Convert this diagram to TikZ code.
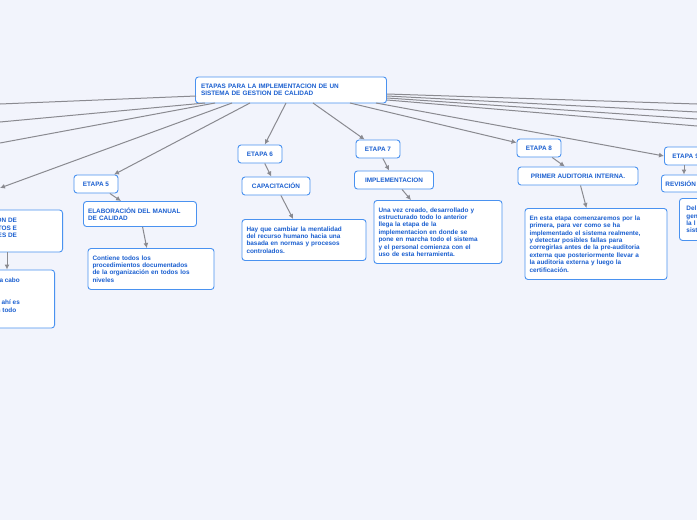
\documentclass[tikz,border=0pt]{standalone}
\usepackage{fontspec}
\setmainfont{Liberation Sans}
\usetikzlibrary{arrows.meta}
\definecolor{bgc}{HTML}{F2F4FC}
\definecolor{txc}{HTML}{1A5FD0}
\definecolor{brc}{HTML}{4A92F0}
\definecolor{lnc}{HTML}{8A8A90}
\tikzstyle{block} = [rectangle, draw=brc, fill=white, line width=0.9pt, rounded corners=3pt,
    text=txc, font=\fontsize{6.4}{7.4}\selectfont\bfseries, inner sep=4pt, align=left]
\tikzstyle{line} = [draw=lnc, line width=1pt, -{Latex[length=5pt,width=5pt]}]
\tikzstyle{plain} = [draw=lnc, line width=1pt]

\begin{document}
\begin{tikzpicture}[x=1pt, y=-1pt]
	\fill[bgc] (0,0) rectangle (697,520);
	\clip (0,0) rectangle (697,520);
	% Nodes
	\node [block, minimum width=191pt, minimum height=26pt, text width=180pt] (Root) at (291,90) {ETAPAS PARA LA IMPLEMENTACION DE UN\\SISTEMA DE GESTION DE CALIDAD};
	\node [block, minimum width=44pt, minimum height=18pt] (Etapa5) at (96,184) {ETAPA 5};
	\node [block, minimum width=113pt, minimum height=25pt, text width=104pt] (Manual) at (140,214) {ELABORACIÓN DEL MANUAL\\DE CALIDAD};
	\node [block, minimum width=126pt, minimum height=41pt, text width=117pt] (Contiene) at (151,269) {Contiene todos los\\procedimientos documentados\\de la organización en todos los\\niveles};
	\node [block, minimum width=44pt, minimum height=18pt] (Etapa6) at (260,154) {ETAPA 6};
	\node [block, minimum width=68pt, minimum height=18pt] (Capac) at (276,186) {CAPACITACIÓN};
	\node [block, minimum width=124pt, minimum height=41pt, text width=115pt] (Mentalidad) at (304,240) {Hay que cambiar la mentalidad\\del recurso humano hacia una\\basada en normas y procesos\\controlados.};
	\node [block, minimum width=44pt, minimum height=18pt] (Etapa7) at (378,149) {ETAPA 7};
	\node [block, minimum width=79pt, minimum height=18pt] (Implem) at (394,180) {IMPLEMENTACION};
	\node [block, minimum width=128pt, minimum height=63pt, text width=119pt] (Creado) at (438,232) {Una vez creado, desarrollado y\\estructurado todo lo anterior\\llega la etapa de la\\implementacion en donde se\\pone en marcha todo el sistema\\y el personal comienza con el\\uso de esta herramienta.};
	\node [block, minimum width=44pt, minimum height=18pt] (Etapa8) at (539,148) {ETAPA 8};
	\node [block, minimum width=120pt, minimum height=18pt] (Auditoria) at (578,176) {PRIMER AUDITORIA INTERNA.};
	\node [block, minimum width=142pt, minimum height=71pt, text width=133pt] (Primera) at (596,244) {En esta etapa comenzaremos por la\\primera, para ver como se ha\\implementado el sistema realmente,\\y detectar posibles fallas para\\corregirlas antes de la pre-auditoria\\externa que posteriormente llevar a\\la auditoria externa y luego la\\certificación.};
	\node [block, text width=52pt, minimum height=18pt, anchor=west, inner xsep=8pt] (Etapa9) at (664,156) {ETAPA 9};
	\node [block, text width=52pt, minimum height=17pt, anchor=west] (Revision) at (661,183.5) {REVISIÓN};
	\node [block, text width=52pt, minimum height=42pt, anchor=north west, inner xsep=7pt] (Del) at (679,198) {Del\\gen\\la l\\sist};
	\node [block, minimum width=120pt, minimum height=42pt, align=right, anchor=east] (Procs) at (63,231) {ÓN DE\\ENTOS E\\ONES DE\\};
	\node [block, minimum width=120pt, minimum height=58pt, align=right, anchor=east] (Lleva) at (55,299) {e lleva a cabo\\tación de\phantom{aaaaaa}\\\\ntos y ahí es\\mamos todo\phantom{a}\\mos.\phantom{aaaaaaaaaa}};
	\coordinate (L1) at (0,104);
	\coordinate (L2) at (0,122);
	\coordinate (L3) at (0,143);
	\coordinate (L4) at (0,188);
	\coordinate (R1) at (697,104);
	\coordinate (R2) at (697,112);
	\coordinate (R3) at (697,119);
	\coordinate (R4) at (697,126);
	\coordinate (P1) at (7,252);

	% Arrows
	\path [plain] (196,96) -- (L1);
	\path [plain] (205,103) -- (L2);
	\path [plain] (215,103) -- (L3);
	\path [line] (232,103) -- (L4);
	\path [line] (250,103) -- (Etapa5);
	\path [line] (286,103) -- (Etapa6);
	\path [line] (313,103) -- (Etapa7);
	\path [line] (350,103) -- (Etapa8);
	\path [line] (376,103) -- (Etapa9.west);
	\path [plain] (387,94) -- (R1);
	\path [plain] (387,96) -- (R2);
	\path [plain] (387,98) -- (R3);
	\path [plain] (387,100) -- (R4);
	\path [line] (Etapa5) -- (Manual);
	\path [line] (Manual) -- (Contiene);
	\path [line] (Etapa6) -- (Capac);
	\path [line] (Capac) -- (Mentalidad);
	\path [line] (Etapa7) -- (Implem);
	\path [line] (Implem) -- (Creado);
	\path [line] (Etapa8) -- (Auditoria);
	\path [line] (Auditoria) -- (Primera);
	\path [line] (Etapa9.south west) ++(20,0) -- (Revision.north west -| 684,0);
	\path [line] (P1) -- (Lleva.north east -| 7,0);
\end{tikzpicture}
\end{document}
